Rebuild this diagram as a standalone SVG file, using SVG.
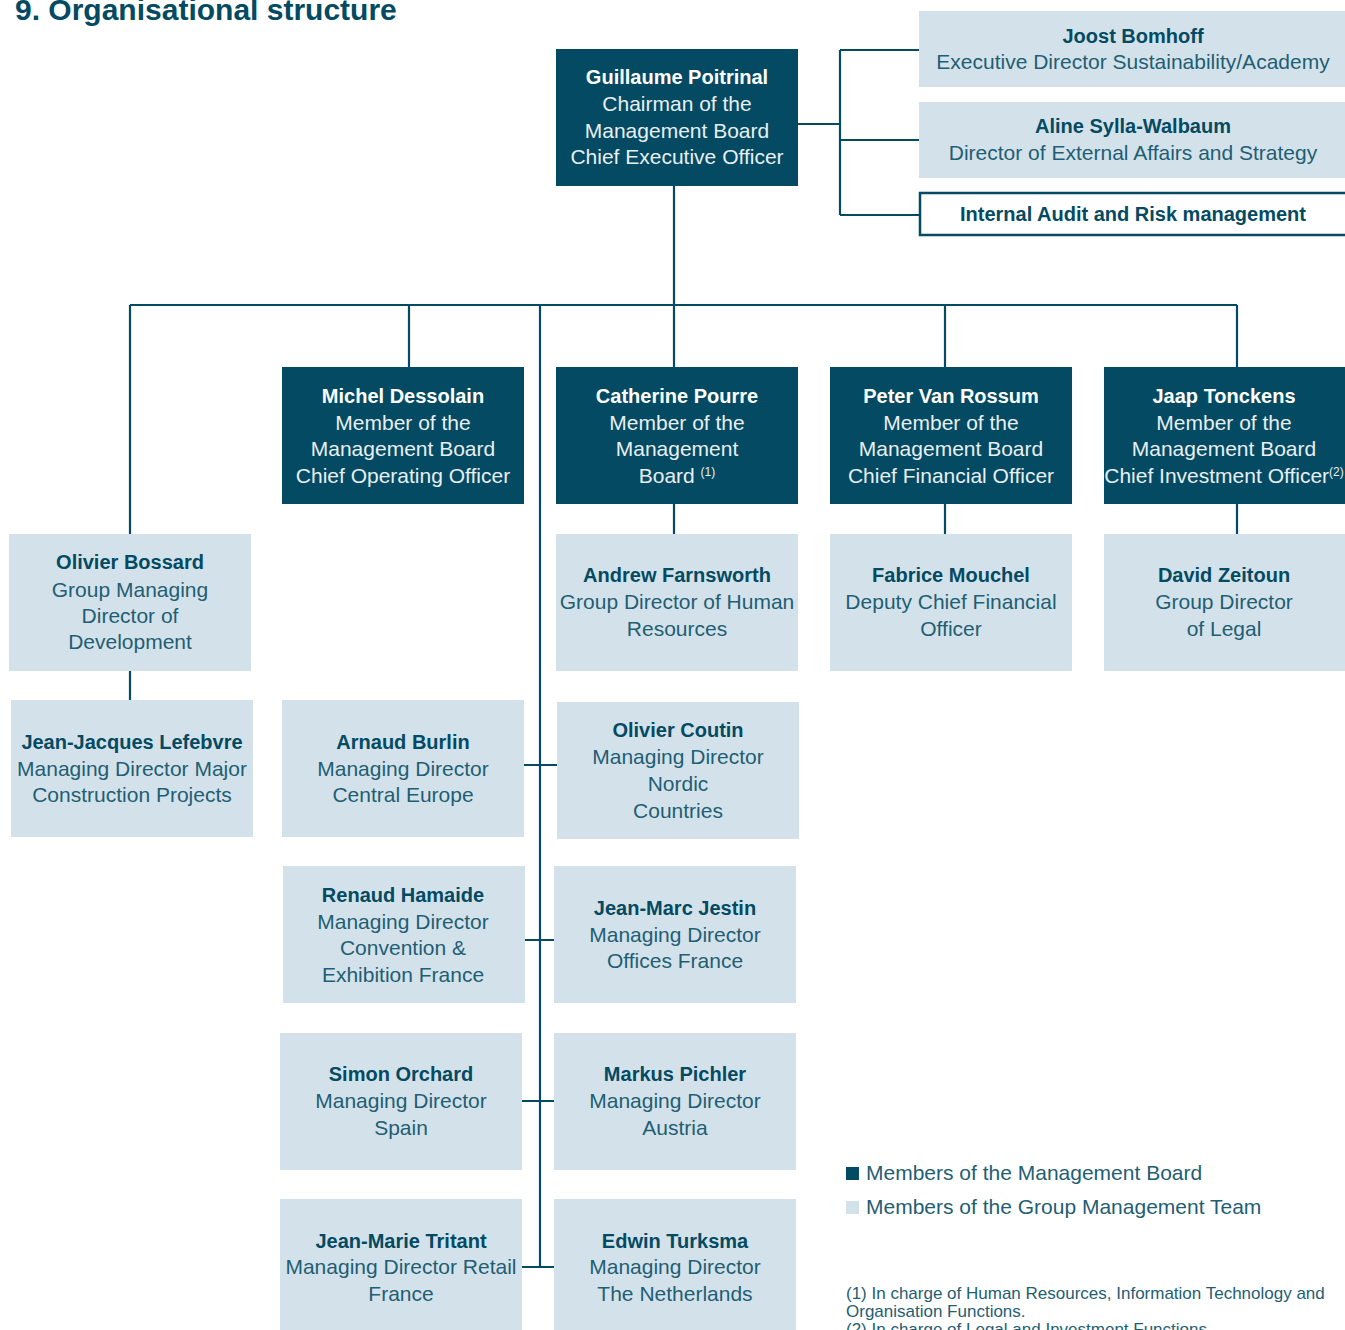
<svg xmlns="http://www.w3.org/2000/svg" width="1345" height="1330" viewBox="0 0 1345 1330">
<style>
.dark{fill:#034a62}
.light{fill:#d3e2ea}
.t{font-family:"Liberation Sans",Arial,sans-serif;text-anchor:middle}
.nm{font-weight:bold;font-size:20px}
.rl{font-size:21px}
.dk .nm{fill:#ffffff}
.dk .rl{fill:#e8eff2}
.lt .nm{fill:#034a62}
.lt .rl{fill:#1f5e73}
.sup{font-size:12px}
.ln{stroke:#034a62;stroke-width:2.2;fill:none}
.lg{font-family:"Liberation Sans",Arial,sans-serif;font-size:21px;fill:#1f5e73}
.fn{font-family:"Liberation Sans",Arial,sans-serif;font-size:17px;fill:#1f5e73}
</style>
<rect width="1345" height="1330" fill="#ffffff"/>
<text x="15" y="20" font-family="Liberation Sans,Arial,sans-serif" font-weight="bold" font-size="30" fill="#034a62">9. Organisational structure</text>

<g id="connectors" class="ln">
<path d="M798 124H840M840 50V215M840 50H919M840 140H919M840 215H919"/>
<path d="M674 186V305M130 305H1237"/>
<path d="M130 305V534M409 305V367M674 305V367M945 305V367M1237 305V367"/>
<path d="M540 305V1267"/>
<path d="M674 504V534M945 504V534M1237 504V534M130 671V700"/>
<path d="M524 765H557M525 940H554M522 1101H554M522 1267H554"/>
</g>

<g id="ceo" class="dk"><rect class="dark" x="556" y="49" width="242" height="137"/>
<text class="t nm" x="677" y="84">Guillaume Poitrinal</text>
<text class="t rl" x="677" y="111">Chairman of the</text>
<text class="t rl" x="677" y="138">Management Board</text>
<text class="t rl" x="677" y="164">Chief Executive Officer</text></g>

<g id="joost" class="lt"><rect class="light" x="919" y="11" width="426" height="76"/>
<text class="t nm" x="1133" y="43">Joost Bomhoff</text>
<text class="t rl" x="1133" y="69">Executive Director Sustainability/Academy</text></g>

<g id="aline" class="lt"><rect class="light" x="919" y="102" width="426" height="76"/>
<text class="t nm" x="1133" y="133">Aline Sylla-Walbaum</text>
<text class="t rl" x="1133" y="160">Director of External Affairs and Strategy</text></g>

<g id="audit" class="lt"><rect x="920" y="193" width="430" height="42" fill="#ffffff" stroke="#034a62" stroke-width="2.5"/>
<text class="t nm" x="1133" y="221">Internal Audit and Risk management</text></g>

<g id="michel" class="dk"><rect class="dark" x="282" y="367" width="242" height="137"/>
<text class="t nm" x="403" y="403">Michel Dessolain</text>
<text class="t rl" x="403" y="430">Member of the</text>
<text class="t rl" x="403" y="456">Management Board</text>
<text class="t rl" x="403" y="483">Chief Operating Officer</text></g>

<g id="catherine" class="dk"><rect class="dark" x="556" y="367" width="242" height="137"/>
<text class="t nm" x="677" y="403">Catherine Pourre</text>
<text class="t rl" x="677" y="430">Member of the</text>
<text class="t rl" x="677" y="456">Management</text>
<text class="t rl" x="677" y="483">Board <tspan class="sup" dy="-7">(1)</tspan></text></g>

<g id="peter" class="dk"><rect class="dark" x="830" y="367" width="242" height="137"/>
<text class="t nm" x="951" y="403">Peter Van Rossum</text>
<text class="t rl" x="951" y="430">Member of the</text>
<text class="t rl" x="951" y="456">Management Board</text>
<text class="t rl" x="951" y="483">Chief Financial Officer</text></g>

<g id="jaap" class="dk"><rect class="dark" x="1104" y="367" width="241" height="137"/>
<text class="t nm" x="1224" y="403">Jaap Tonckens</text>
<text class="t rl" x="1224" y="430">Member of the</text>
<text class="t rl" x="1224" y="456">Management Board</text>
<text class="t rl" x="1224" y="483">Chief Investment Officer<tspan class="sup" dy="-7">(2)</tspan></text></g>

<g id="bossard" class="lt"><rect class="light" x="9" y="534" width="242" height="137"/>
<text class="t nm" x="130" y="569">Olivier Bossard</text>
<text class="t rl" x="130" y="597">Group Managing</text>
<text class="t rl" x="130" y="623">Director of</text>
<text class="t rl" x="130" y="649">Development</text></g>

<g id="andrew" class="lt"><rect class="light" x="556" y="534" width="242" height="137"/>
<text class="t nm" x="677" y="582">Andrew Farnsworth</text>
<text class="t rl" x="677" y="609">Group Director of Human</text>
<text class="t rl" x="677" y="636">Resources</text></g>

<g id="fabrice" class="lt"><rect class="light" x="830" y="534" width="242" height="137"/>
<text class="t nm" x="951" y="582">Fabrice Mouchel</text>
<text class="t rl" x="951" y="609">Deputy Chief Financial</text>
<text class="t rl" x="951" y="636">Officer</text></g>

<g id="david" class="lt"><rect class="light" x="1104" y="534" width="241" height="137"/>
<text class="t nm" x="1224" y="582">David Zeitoun</text>
<text class="t rl" x="1224" y="609">Group Director</text>
<text class="t rl" x="1224" y="636">of Legal</text></g>

<g id="lefebvre" class="lt"><rect class="light" x="11" y="700" width="242" height="137"/>
<text class="t nm" x="132" y="749">Jean-Jacques Lefebvre</text>
<text class="t rl" x="132" y="776">Managing Director Major</text>
<text class="t rl" x="132" y="802">Construction Projects</text></g>

<g id="burlin" class="lt"><rect class="light" x="282" y="700" width="242" height="137"/>
<text class="t nm" x="403" y="749">Arnaud Burlin</text>
<text class="t rl" x="403" y="776">Managing Director</text>
<text class="t rl" x="403" y="802">Central Europe</text></g>

<g id="coutin" class="lt"><rect class="light" x="557" y="702" width="242" height="137"/>
<text class="t nm" x="678" y="737">Olivier Coutin</text>
<text class="t rl" x="678" y="764">Managing Director</text>
<text class="t rl" x="678" y="791">Nordic</text>
<text class="t rl" x="678" y="818">Countries</text></g>

<g id="hamaide" class="lt"><rect class="light" x="283" y="866" width="242" height="137"/>
<text class="t nm" x="403" y="902">Renaud Hamaide</text>
<text class="t rl" x="403" y="929">Managing Director</text>
<text class="t rl" x="403" y="955">Convention &amp;</text>
<text class="t rl" x="403" y="982">Exhibition France</text></g>

<g id="jestin" class="lt"><rect class="light" x="554" y="866" width="242" height="137"/>
<text class="t nm" x="675" y="915">Jean-Marc Jestin</text>
<text class="t rl" x="675" y="942">Managing Director</text>
<text class="t rl" x="675" y="968">Offices France</text></g>

<g id="orchard" class="lt"><rect class="light" x="280" y="1033" width="242" height="137"/>
<text class="t nm" x="401" y="1081">Simon Orchard</text>
<text class="t rl" x="401" y="1108">Managing Director</text>
<text class="t rl" x="401" y="1135">Spain</text></g>

<g id="pichler" class="lt"><rect class="light" x="554" y="1033" width="242" height="137"/>
<text class="t nm" x="675" y="1081">Markus Pichler</text>
<text class="t rl" x="675" y="1108">Managing Director</text>
<text class="t rl" x="675" y="1135">Austria</text></g>

<g id="tritant" class="lt"><rect class="light" x="280" y="1199" width="242" height="131"/>
<text class="t nm" x="401" y="1248">Jean-Marie Tritant</text>
<text class="t rl" x="401" y="1274">Managing Director Retail</text>
<text class="t rl" x="401" y="1301">France</text></g>

<g id="turksma" class="lt"><rect class="light" x="554" y="1199" width="242" height="131"/>
<text class="t nm" x="675" y="1248">Edwin Turksma</text>
<text class="t rl" x="675" y="1274">Managing Director</text>
<text class="t rl" x="675" y="1301">The Netherlands</text></g>

<g id="legend">
<rect class="dark" x="846" y="1167" width="13" height="13"/>
<text class="lg" x="866" y="1180">Members of the Management Board</text>
<rect class="light" x="846" y="1201" width="13" height="13"/>
<text class="lg" x="866" y="1214">Members of the Group Management Team</text>
</g>
<g id="footnotes">
<text class="fn" x="846" y="1299">(1) In charge of Human Resources, Information Technology and</text>
<text class="fn" x="846" y="1317">Organisation Functions.</text>
<text class="fn" x="846" y="1335">(2) In charge of Legal and Investment Functions.</text>
</g>
</svg>
